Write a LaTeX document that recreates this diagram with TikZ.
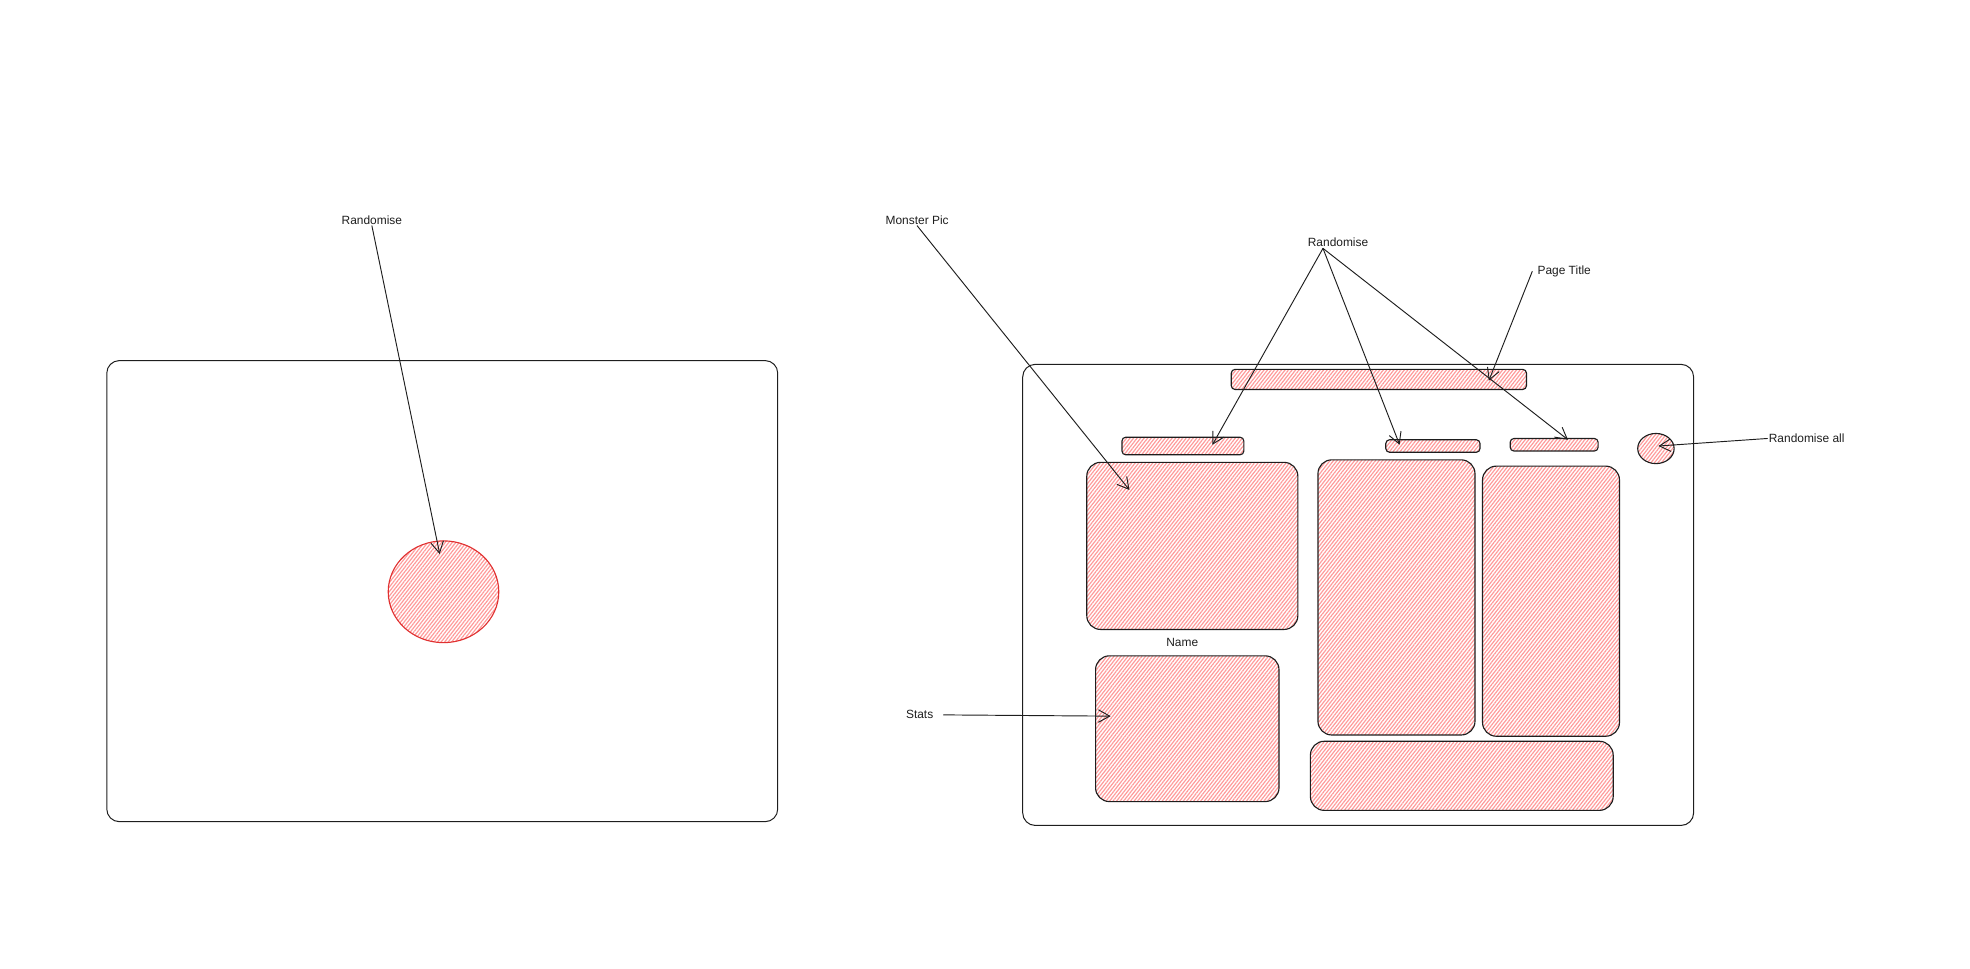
\documentclass[tikz,border=0pt]{standalone}
\usepackage{fontspec}
\setmainfont{Liberation Sans}
\usetikzlibrary{arrows.meta,calc,fit,positioning,patterns.meta,shapes.geometric}
\definecolor{inkgray}{HTML}{1E1E1E}
\definecolor{hatchpink}{HTML}{FF9A9A}
\definecolor{dotred}{HTML}{E03131}
\tikzset{
  screen frame/.style={draw=inkgray,line width=.8pt,rounded corners=10pt,inner sep=0pt},
  panel/.style={draw=inkgray,line width=.9pt,rounded corners=11pt,inner sep=0pt,
    pattern={Lines[angle=52,distance=2.2pt,line width=.95pt]},pattern color=hatchpink},
  bar/.style={panel,rounded corners=3pt},
  knob/.style={panel,ellipse,rounded corners=0pt},
  note/.style={font=\fontsize{9.5}{11}\selectfont,text=inkgray,inner sep=1pt},
  pointer/.style={draw=inkgray,line width=.75pt,-{Straight Barb[length=9pt,width=10pt]}}
}

\begin{document}
\begin{tikzpicture}[x=1pt,y=-1pt,line cap=round,line join=round]
  \useasboundingbox (0,0) rectangle (1568,771);

  \node[screen frame,fit={(85,287) (619,654)}] (startscreen) {};
  \node[screen frame,fit={(814,290) (1348,657)}] (monsterscreen) {};

  \node[knob,draw=dotred,minimum width=88pt,minimum height=81pt] (dice) at (353,471) {};

  \node[bar,fit={(980,294) (1215,310)}] (titlebar) {};
  \node[bar,fit={(893,348) (990,362)}] (bara) {};
  \node[bar,fit={(1103,350) (1178,360)}] (barb) {};
  \node[bar,fit={(1202,349) (1272,359)}] (barc) {};
  \node[knob,minimum width=29pt,minimum height=24pt] (rollall) at (1318,357) {};
  \node[panel,fit={(865,368) (1033,501)}] (pic) {};
  \node[panel,fit={(872,522) (1018,638)}] (stats) {};
  \node[panel,fit={(1049,366) (1174,585)}] (tallone) {};
  \node[panel,fit={(1180,371) (1289,586)}] (talltwo) {};
  \node[panel,fit={(1043,590) (1284,645)}] (footer) {};

  \coordinate (dicetip)  at (350,441);
  \coordinate (pictip)   at (899,390);
  \coordinate (atip)     at (965,354);
  \coordinate (btip)     at (1114,354);
  \coordinate (ctip)     at (1248,350);
  \coordinate (titletip) at (1185,303);
  \coordinate (alltip)   at (1320,355);
  \coordinate (statstip) at (884,570);

  \node[note] (randleft)  at (296,175) {Randomise};
  \node[note] (monster)   at (730,175) {Monster Pic};
  \node[note] (randright) at (1065,193) {Randomise};
  \node[note] (pagetitle) at (1245,216) {Page Title};
  \node[note] (randall)   at (1438,349) {Randomise all};
  \node[note] (statslbl)  at (732,569) {Stats};
  \node[note] (namelbl)   at (941,511) {Name};

  \draw[pointer] (randleft.south) -- (dicetip);
  \draw[pointer] (monster.south) -- (pictip);
  \foreach \t in {atip,btip,ctip} {\draw[pointer] ([xshift=-12pt]randright.south) -- (\t);}
  \draw[pointer] ([xshift=-3pt]pagetitle.west) -- (titletip);
  \draw[pointer] (randall.west) -- (alltip);
  \draw[pointer] ([xshift=7pt]statslbl.east) -- (statstip);
\end{tikzpicture}
\end{document}
